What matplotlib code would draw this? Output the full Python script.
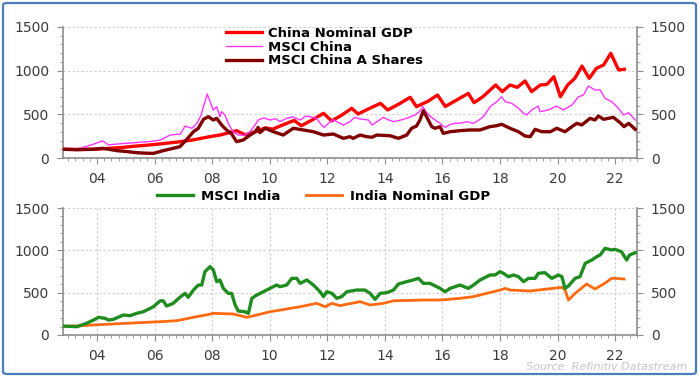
import numpy as np
import matplotlib
matplotlib.use("Agg")
import matplotlib.pyplot as plt
from matplotlib.ticker import MultipleLocator, FixedLocator
from matplotlib.patches import FancyBboxPatch

# ---- data (index, start = 100), time in decimal years ----
cn_gdp_t = [2002.83, 2003.3, 2003.85, 2004.3, 2004.85, 2005.3, 2005.85, 2006.3, 2006.85, 2007.3,
            2007.85, 2008.3, 2008.85, 2009.15, 2009.5, 2009.85, 2010.1, 2010.5, 2010.85, 2011.1,
            2011.5, 2011.87, 2012.15, 2012.5, 2012.85, 2013.07, 2013.45, 2013.85, 2014.1, 2014.5,
            2014.88, 2015.1, 2015.5, 2015.83, 2016.1, 2016.5, 2016.9, 2017.1, 2017.4, 2017.85,
            2018.08, 2018.35, 2018.6, 2018.87, 2019.1, 2019.4, 2019.63, 2019.87, 2020.1, 2020.35,
            2020.6, 2020.85, 2021.1, 2021.35, 2021.6, 2021.85, 2022.12, 2022.32]
cn_gdp = [100, 98, 100, 108, 120, 135, 150, 165, 185, 205,
          240, 265, 313, 265, 300, 345, 330, 385, 430, 370,
          440, 512, 425, 490, 569, 504, 565, 626, 550, 620,
          695, 588, 650, 721, 590, 665, 740, 634, 700, 836,
          760, 836, 809, 882, 760, 836, 843, 931, 702, 836,
          912, 1053, 912, 1027, 1065, 1199, 1008, 1016]

cn_msci_t = [2002.83, 2003.2, 2003.5, 2003.87, 2004.1, 2004.2, 2004.4, 2004.7, 2005.0, 2005.3,
             2005.6, 2005.9, 2006.2, 2006.4, 2006.55, 2006.9, 2007.06, 2007.3, 2007.47, 2007.6,
             2007.7, 2007.83, 2007.93, 2008.04, 2008.16, 2008.27, 2008.33, 2008.45, 2008.56, 2008.73,
             2008.9, 2009.14, 2009.32, 2009.49, 2009.6, 2009.8, 2010.0, 2010.2, 2010.36, 2010.59,
             2010.8, 2011.06, 2011.25, 2011.4, 2011.63, 2011.8, 2011.9, 2012.04, 2012.2, 2012.33,
             2012.56, 2012.79, 2012.95, 2013.1, 2013.43, 2013.55, 2013.75, 2013.95, 2014.1, 2014.3,
             2014.5, 2014.76, 2015.05, 2015.2, 2015.32, 2015.45, 2015.6, 2015.75, 2015.92, 2016.09,
             2016.25, 2016.44, 2016.65, 2016.85, 2017.08, 2017.25, 2017.42, 2017.66, 2017.89, 2018.06,
             2018.18, 2018.41, 2018.64, 2018.82, 2018.93, 2019.1, 2019.33, 2019.39, 2019.68, 2019.97,
             2020.2, 2020.5, 2020.73, 2020.9, 2021.07, 2021.3, 2021.48, 2021.65, 2021.88, 2022.12,
             2022.29, 2022.47, 2022.7]
cn_msci = [100, 95, 120, 157, 185, 195, 150, 160, 168, 175,
           183, 190, 206, 240, 263, 275, 366, 340, 397, 480,
           588, 733, 645, 550, 588, 473, 530, 492, 397, 301,
           263, 263, 301, 378, 435, 460, 435, 450, 416, 454,
           470, 435, 480, 473, 454, 378, 350, 397, 440, 416,
           378, 416, 466, 450, 435, 378, 420, 466, 440, 416,
           430, 454, 492, 530, 588, 520, 470, 435, 397, 351,
           380, 397, 400, 416, 397, 430, 473, 588, 645, 702,
           645, 626, 569, 512, 492, 550, 595, 530, 550, 595,
           550, 607, 702, 721, 824, 779, 779, 683, 645, 569,
           492, 519, 435]

cn_a_t = [2002.83, 2003.3, 2003.87, 2004.22, 2004.69, 2005.0, 2005.38, 2005.7, 2005.96, 2006.3,
          2006.65, 2006.88, 2007.1, 2007.35, 2007.52, 2007.7, 2007.87, 2008.04, 2008.16, 2008.33,
          2008.5, 2008.68, 2008.85, 2009.08, 2009.32, 2009.5, 2009.6, 2009.66, 2009.84, 2010.13,
          2010.47, 2010.82, 2011.17, 2011.52, 2011.87, 2012.21, 2012.56, 2012.79, 2012.9, 2013.14,
          2013.37, 2013.55, 2013.72, 2014.18, 2014.47, 2014.76, 2014.93, 2015.1, 2015.22, 2015.34,
          2015.48, 2015.63, 2015.74, 2015.92, 2016.03, 2016.27, 2016.61, 2016.96, 2017.31, 2017.65,
          2017.89, 2018.06, 2018.35, 2018.64, 2018.87, 2019.05, 2019.22, 2019.45, 2019.75, 2019.97,
          2020.26, 2020.5, 2020.67, 2020.84, 2021.13, 2021.3, 2021.42, 2021.6, 2021.94, 2022.17,
          2022.31, 2022.47, 2022.7]
cn_a = [100, 95, 100, 111, 84, 75, 61, 55, 53, 84,
        111, 130, 206, 301, 340, 443, 473, 435, 454, 378,
        321, 275, 187, 206, 263, 300, 350, 290, 340, 301,
        263, 340, 321, 301, 263, 275, 225, 244, 225, 263,
        244, 237, 263, 255, 225, 263, 340, 366, 435, 542,
        454, 359, 340, 359, 282, 301, 313, 321, 321, 359,
        370, 386, 340, 301, 252, 244, 328, 301, 301, 340,
        301, 359, 397, 378, 454, 435, 481, 443, 466, 405,
        359, 397, 328]

in_msci_t = [2002.83, 2003.3, 2003.64, 2003.93, 2004.05, 2004.28, 2004.4, 2004.57, 2004.92, 2005.15,
             2005.38, 2005.61, 2005.73, 2005.96, 2006.19, 2006.3, 2006.42, 2006.65, 2006.88, 2007.06,
             2007.17, 2007.35, 2007.52, 2007.64, 2007.75, 2007.93, 2008.04, 2008.16, 2008.27, 2008.39,
             2008.56, 2008.68, 2008.8, 2008.91, 2009.14, 2009.26, 2009.38, 2009.55, 2009.78, 2010.01,
             2010.24, 2010.36, 2010.59, 2010.77, 2010.94, 2011.06, 2011.29, 2011.52, 2011.75, 2011.87,
             2011.98, 2012.16, 2012.33, 2012.5, 2012.68, 2013.02, 2013.31, 2013.49, 2013.66, 2013.84,
             2014.07, 2014.3, 2014.47, 2014.76, 2014.99, 2015.17, 2015.34, 2015.57, 2015.8, 2015.92,
             2016.09, 2016.27, 2016.61, 2016.9, 2017.08, 2017.31, 2017.54, 2017.66, 2017.83, 2018.0,
             2018.12, 2018.29, 2018.47, 2018.64, 2018.82, 2018.99, 2019.22, 2019.33, 2019.56, 2019.8,
             2020.03, 2020.15, 2020.26, 2020.38, 2020.61, 2020.78, 2020.96, 2021.19, 2021.36, 2021.48,
             2021.65, 2021.88, 2021.99, 2022.22, 2022.4, 2022.5, 2022.7]
in_msci = [106, 98, 138, 185, 209, 197, 177, 185, 236, 228,
           256, 275, 295, 334, 402, 404, 342, 374, 445, 492,
           445, 531, 590, 590, 748, 807, 768, 630, 650, 551,
           492, 492, 354, 283, 275, 256, 433, 472, 511, 551,
           590, 571, 590, 669, 669, 610, 650, 590, 511, 453,
           511, 492, 433, 453, 511, 531, 531, 492, 421, 492,
           500, 531, 602, 630, 650, 669, 610, 610, 571, 551,
           511, 551, 590, 551, 590, 650, 689, 709, 709, 748,
           728, 689, 709, 689, 630, 669, 669, 728, 736, 669,
           709, 689, 551, 580, 669, 689, 846, 886, 925, 945,
           1024, 1004, 1012, 984, 886, 945, 972]

in_gdp_t = [2002.83, 2003.87, 2005.0, 2006.19, 2006.77, 2007.35, 2007.9, 2008.04, 2008.74, 2009.2,
            2009.55, 2010.01, 2010.59, 2011.06, 2011.63, 2011.93, 2012.16, 2012.44, 2013.14, 2013.49,
            2013.95, 2014.3, 2015.34, 2015.92, 2016.61, 2017.08, 2017.54, 2018.0, 2018.18, 2018.35,
            2019.05, 2019.63, 2020.15, 2020.26, 2020.38, 2020.61, 2021.01, 2021.3, 2021.6, 2021.88,
            2022.06, 2022.31]
in_gdp = [100, 118, 138, 157, 169, 209, 244, 256, 248, 209,
          236, 275, 307, 334, 374, 334, 374, 347, 394, 354,
          374, 404, 413, 413, 433, 453, 492, 531, 551, 531,
          520, 543, 563, 531, 413, 492, 602, 543, 602, 669,
          669, 661]

year_ticks = [2004, 2006, 2008, 2010, 2012, 2014, 2016, 2018, 2020, 2022]
year_labels = ["04", "06", "08", "10", "12", "14", "16", "18", "20", "22"]

W, H = 699, 377
fig = plt.figure(figsize=(W / 100, H / 100), dpi=100)
plt.rcParams["font.family"] = ["DejaVu Sans"]

axis_col = "#8c8c8c"
lab_col = "#3a3a3a"


def style(ax, vgrid):
    ax.set_xlim(2002.82, 2022.76)
    ax.set_ylim(0, 1500)
    ax.xaxis.set_major_locator(FixedLocator(year_ticks))
    ax.set_xticklabels(year_labels)
    ax.xaxis.set_minor_locator(MultipleLocator(0.25))
    ax.yaxis.set_major_locator(MultipleLocator(500))
    ax.yaxis.set_minor_locator(MultipleLocator(100))
    ax.spines["top"].set_visible(False)
    for s in ["left", "right", "bottom"]:
        ax.spines[s].set_color(axis_col)
        ax.spines[s].set_linewidth(1.2)
    ax.tick_params(axis="y", which="both", left=True, right=True, labelleft=True,
                   labelright=True, direction="out", colors=axis_col, labelcolor=lab_col,
                   labelsize=10)
    ax.tick_params(axis="y", which="major", length=4, pad=6)
    ax.tick_params(axis="y", which="minor", length=2.5)
    ax.tick_params(axis="x", which="major", length=4, pad=6, colors=axis_col,
                   labelcolor=lab_col, labelsize=10)
    ax.tick_params(axis="x", which="minor", length=2.5, colors=axis_col)
    ax.grid(axis="y", which="major", color="#cccccc", linestyle=(0, (2, 2)), linewidth=0.8)
    if vgrid:
        ax.grid(axis="x", which="major", color="#cccccc", linestyle=(0, (2, 2)), linewidth=0.8)
    ax.set_axisbelow(True)


ax1 = fig.add_axes([63 / W, 1 - 158 / H, (637 - 63) / W, (158 - 27) / H])
ax1.plot(cn_gdp_t, cn_gdp, color="#ff0000", lw=2.4, label="China Nominal GDP", zorder=3)
ax1.plot(cn_msci_t, cn_msci, color="#ff33ff", lw=1.0, label="MSCI China", zorder=4)
ax1.plot(cn_a_t, cn_a, color="#800000", lw=2.4, label="MSCI China A Shares", zorder=5)
style(ax1, False)
ax1.legend(loc="upper left", bbox_to_anchor=(226 / W, 1 - 27 / H), bbox_transform=fig.transFigure,
           frameon=False, handlelength=2.7, handletextpad=0.5, labelspacing=0.05,
           borderpad=0, borderaxespad=0, prop={"weight": "bold", "size": 9.5})

ax2 = fig.add_axes([63 / W, 1 - 335 / H, (637 - 63) / W, (335 - 208) / H])
ax2.plot(in_msci_t, in_msci, color="#1e8c1e", lw=2.4, label="MSCI India", zorder=4)
ax2.plot(in_gdp_t, in_gdp, color="#ff6a10", lw=2.0, label="India Nominal GDP", zorder=3)
style(ax2, True)
ax2.legend(loc="center left", bbox_to_anchor=(157 / W, 1 - 196 / H), bbox_transform=fig.transFigure,
           ncol=2, frameon=False, handlelength=2.7, handletextpad=0.6, columnspacing=2.0,
           borderpad=0, borderaxespad=0, prop={"weight": "bold", "size": 9.5})

fig.text(687 / W, 1 - 367 / H, "Source: Refinitiv Datastream", ha="right", va="center",
         fontsize=8, style="italic", color="#c4c4c4")

fig.patches.append(FancyBboxPatch((3 / W, 3 / H), (W - 6) / W, (H - 6) / H,
                                  boxstyle="round,pad=0,rounding_size=0.006",
                                  transform=fig.transFigure, fill=False,
                                  edgecolor="#4a7ebb", linewidth=1.6, zorder=10))

fig.savefig("out.png", dpi=100)
